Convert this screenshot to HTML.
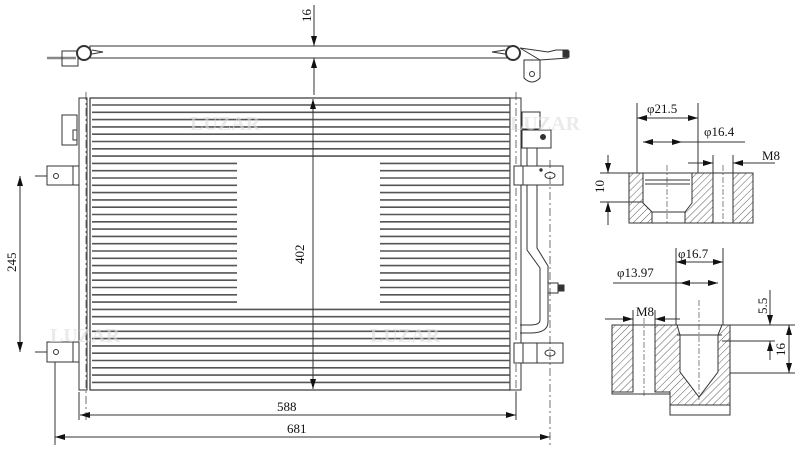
<!DOCTYPE html>
<html><head><meta charset="utf-8"><style>
html,body{margin:0;padding:0;background:#fff;}
svg{display:block;}
text{font-family:"Liberation Serif",serif;fill:#111;}
</style></head><body>
<svg width="800" height="449" viewBox="0 0 800 449" xmlns="http://www.w3.org/2000/svg">
<defs>
<pattern id="h" width="5" height="5" patternUnits="userSpaceOnUse" patternTransform="rotate(45)">
<rect width="5" height="5" fill="#fff"/><line x1="0" y1="0" x2="0" y2="5" stroke="#333" stroke-width="0.8"/>
</pattern>
<marker id="a" viewBox="0 0 10 6" refX="10" refY="3" markerWidth="10" markerHeight="6" orient="auto-start-reverse" markerUnits="userSpaceOnUse"><path d="M0,0 L10,3 L0,6z" fill="#111"/></marker>
</defs>
<g stroke="#333" fill="none" stroke-width="1">
<!-- top view -->
<rect x="90" y="46" width="423" height="12" fill="#fff"/>
<line x1="47" y1="58" x2="76" y2="58" stroke-width="2.5" stroke="#888"/>
<rect x="62" y="51" width="16" height="15"/>
<circle cx="84" cy="53" r="7" fill="#fff" stroke-width="2"/>
<path d="M92,50 L103,52 L92,54"/><path d="M505,50 L492,52 L505,54"/>
<circle cx="513" cy="53" r="7" fill="#fff" stroke-width="2"/>
<path d="M520,48 L548,52 L556,50 L568,50 L568,58 L540,60 Z" fill="#fff"/>
<rect x="563" y="51" width="6" height="6" fill="#333"/>
<path d="M524,60 L540,60 L540,78 Q532,86 524,78 Z" fill="#fff"/>
<circle cx="532" cy="74" r="2.5"/>
<!-- 16 dim -->
<line x1="314" y1="5" x2="314" y2="46" marker-end="url(#a)"/>
<line x1="314" y1="95" x2="314" y2="58" marker-end="url(#a)"/>
<!-- main body -->
<rect x="79" y="98" width="8" height="292" fill="#fff"/>
<line x1="86" y1="92" x2="86" y2="420" stroke-dasharray="8 3 2 3" stroke-width="0.7"/>
<rect x="62" y="115" width="15" height="30"/>
<rect x="73" y="130" width="4" height="10"/>
<rect x="47" y="166" width="32" height="19"/><circle cx="56" cy="176" r="2.5"/><line x1="73" y1="166" x2="73" y2="185"/>
<rect x="47" y="342" width="32" height="20"/><circle cx="56" cy="352" r="2.5"/><line x1="73" y1="342" x2="73" y2="362"/>
<rect x="90" y="98" width="420" height="292" stroke-width="1.2"/>
<rect x="510" y="98" width="11" height="292" fill="#fff"/>
<line x1="516" y1="92" x2="516" y2="420" stroke-dasharray="8 3 2 3" stroke-width="0.7"/>
</g>
<g stroke="#555" stroke-width="1.6">
<line x1="92" y1="105" x2="510" y2="105"/><line x1="92" y1="112.3" x2="510" y2="112.3"/><line x1="92" y1="119.6" x2="510" y2="119.6"/><line x1="92" y1="126.9" x2="510" y2="126.9"/><line x1="92" y1="134.2" x2="510" y2="134.2"/><line x1="92" y1="141.5" x2="510" y2="141.5"/><line x1="92" y1="148.8" x2="510" y2="148.8"/><line x1="92" y1="156.1" x2="510" y2="156.1"/>
<line x1="92" y1="163.4" x2="237" y2="163.4"/><line x1="380" y1="163.4" x2="510" y2="163.4"/>
<line x1="92" y1="170.7" x2="237" y2="170.7"/><line x1="380" y1="170.7" x2="510" y2="170.7"/>
<line x1="92" y1="178" x2="237" y2="178"/><line x1="380" y1="178" x2="510" y2="178"/>
<line x1="92" y1="185.3" x2="237" y2="185.3"/><line x1="380" y1="185.3" x2="510" y2="185.3"/>
<line x1="92" y1="192.6" x2="237" y2="192.6"/><line x1="380" y1="192.6" x2="510" y2="192.6"/>
<line x1="92" y1="199.9" x2="237" y2="199.9"/><line x1="380" y1="199.9" x2="510" y2="199.9"/>
<line x1="92" y1="207.2" x2="237" y2="207.2"/><line x1="380" y1="207.2" x2="510" y2="207.2"/>
<line x1="92" y1="214.5" x2="237" y2="214.5"/><line x1="380" y1="214.5" x2="510" y2="214.5"/>
<line x1="92" y1="221.8" x2="237" y2="221.8"/><line x1="380" y1="221.8" x2="510" y2="221.8"/>
<line x1="92" y1="229.1" x2="237" y2="229.1"/><line x1="380" y1="229.1" x2="510" y2="229.1"/>
<line x1="92" y1="236.4" x2="237" y2="236.4"/><line x1="380" y1="236.4" x2="510" y2="236.4"/>
<line x1="92" y1="243.7" x2="237" y2="243.7"/><line x1="380" y1="243.7" x2="510" y2="243.7"/>
<line x1="92" y1="251" x2="237" y2="251"/><line x1="380" y1="251" x2="510" y2="251"/>
<line x1="92" y1="258.3" x2="237" y2="258.3"/><line x1="380" y1="258.3" x2="510" y2="258.3"/>
<line x1="92" y1="265.6" x2="237" y2="265.6"/><line x1="380" y1="265.6" x2="510" y2="265.6"/>
<line x1="92" y1="272.9" x2="237" y2="272.9"/><line x1="380" y1="272.9" x2="510" y2="272.9"/>
<line x1="92" y1="280.2" x2="237" y2="280.2"/><line x1="380" y1="280.2" x2="510" y2="280.2"/>
<line x1="92" y1="287.5" x2="237" y2="287.5"/><line x1="380" y1="287.5" x2="510" y2="287.5"/>
<line x1="92" y1="294.8" x2="237" y2="294.8"/><line x1="380" y1="294.8" x2="510" y2="294.8"/>
<line x1="92" y1="302.1" x2="237" y2="302.1"/><line x1="380" y1="302.1" x2="510" y2="302.1"/>
<line x1="92" y1="309.4" x2="510" y2="309.4"/><line x1="92" y1="316.7" x2="510" y2="316.7"/><line x1="92" y1="324" x2="510" y2="324"/><line x1="92" y1="331.3" x2="510" y2="331.3"/><line x1="92" y1="338.6" x2="510" y2="338.6"/><line x1="92" y1="345.9" x2="510" y2="345.9"/><line x1="92" y1="353.2" x2="510" y2="353.2"/><line x1="92" y1="360.5" x2="510" y2="360.5"/><line x1="92" y1="367.8" x2="510" y2="367.8"/><line x1="92" y1="375.1" x2="510" y2="375.1"/><line x1="92" y1="382.4" x2="510" y2="382.4"/>
</g>
<g stroke="#333" fill="none" stroke-width="1">
<!-- right side pipes & brackets -->
<rect x="522" y="112" width="18" height="17" fill="#fff"/>
<rect x="522" y="130" width="29" height="18" fill="#fff"/><circle cx="543" cy="137" r="2.5" fill="#333"/>
<path d="M527,148 L527,250 L540,268 L540,320 Q540,325 530,325 L520,325 M537,148 L537,248 L548,266 L548,322 Q548,333 530,333 L520,333"/>
<rect x="548" y="283" width="10" height="10" fill="#fff"/><rect x="558" y="285" width="6" height="6" fill="#333"/>
<rect x="514" y="166" width="49" height="19" fill="#fff"/><line x1="523" y1="166" x2="523" y2="185"/><ellipse cx="550" cy="175.5" rx="5" ry="3"/><circle cx="541" cy="170" r="1.2" fill="#333"/>
<rect x="514" y="343" width="49" height="20" fill="#fff"/><line x1="523" y1="343" x2="523" y2="363"/><line x1="537" y1="343" x2="537" y2="363"/><ellipse cx="550" cy="353" rx="5" ry="3"/>
<line x1="550" y1="160" x2="550" y2="445" stroke-dasharray="8 3 2 3" stroke-width="0.7"/>
<!-- dims main -->
<line x1="313" y1="300" x2="313" y2="99" marker-end="url(#a)"/>
<line x1="313" y1="300" x2="313" y2="389" marker-end="url(#a)"/>
<line x1="35" y1="176" x2="47" y2="176"/><line x1="35" y1="352" x2="47" y2="352"/>
<line x1="20" y1="176" x2="20" y2="352" marker-start="url(#a)" marker-end="url(#a)"/>
<line x1="79" y1="392" x2="79" y2="420"/><line x1="516" y1="420" x2="516" y2="392"/>
<line x1="80" y1="415" x2="516" y2="415" marker-start="url(#a)" marker-end="url(#a)"/>
<line x1="55" y1="362" x2="55" y2="445"/>
<line x1="55" y1="437" x2="550" y2="437" marker-start="url(#a)" marker-end="url(#a)"/>
</g>
<g font-size="13">
<text transform="translate(311,22) rotate(-90)">16</text>
<text transform="translate(304,264) rotate(-90)">402</text>
<text transform="translate(16,272) rotate(-90)">245</text>
<text x="277" y="411">588</text>
<text x="287" y="433">681</text>
</g>
<!-- section 1 -->
<g stroke="#333" stroke-width="1">
<path d="M629,173 L643,173 L643,203 L652,212 L652,223 L629,223 Z" fill="url(#h)"/>
<path d="M692,173 L713,173 L713,223 L685,223 L685,212 L692,203 Z" fill="url(#h)"/>
<rect x="733" y="173" width="20" height="50" fill="url(#h)"/>
<rect x="629" y="173" width="124" height="50" fill="none"/>
<line x1="645" y1="180" x2="690" y2="180"/><line x1="645" y1="184" x2="690" y2="184"/>
<line x1="652" y1="212" x2="685" y2="212"/>
<line x1="667" y1="165" x2="667" y2="225" stroke-dasharray="6 2 2 2" stroke-width="0.6"/>
<line x1="723" y1="165" x2="723" y2="225" stroke-dasharray="6 2 2 2" stroke-width="0.6"/>
<line x1="637" y1="103" x2="637" y2="173"/><line x1="698" y1="103" x2="698" y2="173"/>
<line x1="637" y1="118" x2="698" y2="118" marker-start="url(#a)" marker-end="url(#a)"/>
<line x1="643" y1="142" x2="682" y2="142" marker-start="url(#a)" marker-end="url(#a)"/><line x1="682" y1="142" x2="745" y2="142"/>
<line x1="713" y1="155" x2="713" y2="173"/><line x1="733" y1="155" x2="733" y2="173"/>
<line x1="688" y1="163" x2="713" y2="163" marker-end="url(#a)"/><line x1="775" y1="163" x2="733" y2="163" marker-end="url(#a)"/>
<line x1="600" y1="173" x2="640" y2="173"/><line x1="600" y1="202" x2="643" y2="202"/>
<line x1="608" y1="155" x2="608" y2="173" marker-end="url(#a)"/><line x1="608" y1="225" x2="608" y2="202" marker-end="url(#a)"/>
</g>
<!-- section 2 -->
<g stroke="#333" stroke-width="1">
<path d="M612,325 L633,325 L633,392 L612,392 Z" fill="url(#h)"/>
<path d="M655,325 L677,325 L680,335 L680,372 L699,397 L718,372 L718,335 L722,325 L730,325 L730,415 L670,415 L670,392 L655,392 Z" fill="url(#h)"/>
<rect x="670" y="405" width="60" height="10" fill="#fff"/>
<path d="M612,325 L730,325 L730,415 L670,415 L670,394 L612,394 Z" fill="none"/>
<line x1="677" y1="335" x2="722" y2="335"/>
<line x1="644" y1="318" x2="644" y2="396" stroke-dasharray="6 2 2 2" stroke-width="0.6"/>
<line x1="699" y1="300" x2="699" y2="400" stroke-dasharray="6 2 2 2" stroke-width="0.6"/>
<line x1="676" y1="248" x2="676" y2="325"/><line x1="723" y1="248" x2="723" y2="325"/>
<line x1="676" y1="262" x2="723" y2="262" marker-start="url(#a)" marker-end="url(#a)"/>
<line x1="613" y1="283" x2="680" y2="283"/><line x1="680" y1="283" x2="718" y2="283" marker-start="url(#a)" marker-end="url(#a)"/>
<line x1="633" y1="310" x2="633" y2="325"/><line x1="655" y1="310" x2="655" y2="325"/>
<line x1="605" y1="319" x2="633" y2="319" marker-end="url(#a)"/><line x1="680" y1="319" x2="655" y2="319" marker-end="url(#a)"/>
<line x1="725" y1="325" x2="795" y2="325"/><line x1="722" y1="341" x2="775" y2="341"/><line x1="730" y1="373" x2="795" y2="373"/>
<line x1="770" y1="290" x2="770" y2="325" marker-end="url(#a)"/><line x1="770" y1="360" x2="770" y2="341" marker-end="url(#a)"/>
<line x1="789" y1="349" x2="789" y2="325" marker-end="url(#a)"/><line x1="789" y1="349" x2="789" y2="373" marker-end="url(#a)"/>
</g>
<g font-size="13">
<text x="647" y="113">φ21.5</text>
<text x="704" y="136">φ16.4</text>
<text x="762" y="160">M8</text>
<text transform="translate(604,193) rotate(-90)">10</text>
<text x="678" y="258">φ16.7</text>
<text x="617" y="277">φ13.97</text>
<text x="636" y="316">M8</text>
<text transform="translate(767,314) rotate(-90)">5.5</text>
<text transform="translate(785,356) rotate(-90)">16</text>
</g>
<g font-family="Liberation Sans,sans-serif" font-size="20" font-weight="bold" fill="#ddd" opacity="0.6">
<text x="190" y="130" style="fill:#ddd">LUZAR</text>
<text x="510" y="130" style="fill:#ddd">LUZAR</text>
<text x="50" y="342" style="fill:#ddd">LUZAR</text>
<text x="370" y="342" style="fill:#ddd">LUZAR</text>
</g>
</svg>
</body></html>
